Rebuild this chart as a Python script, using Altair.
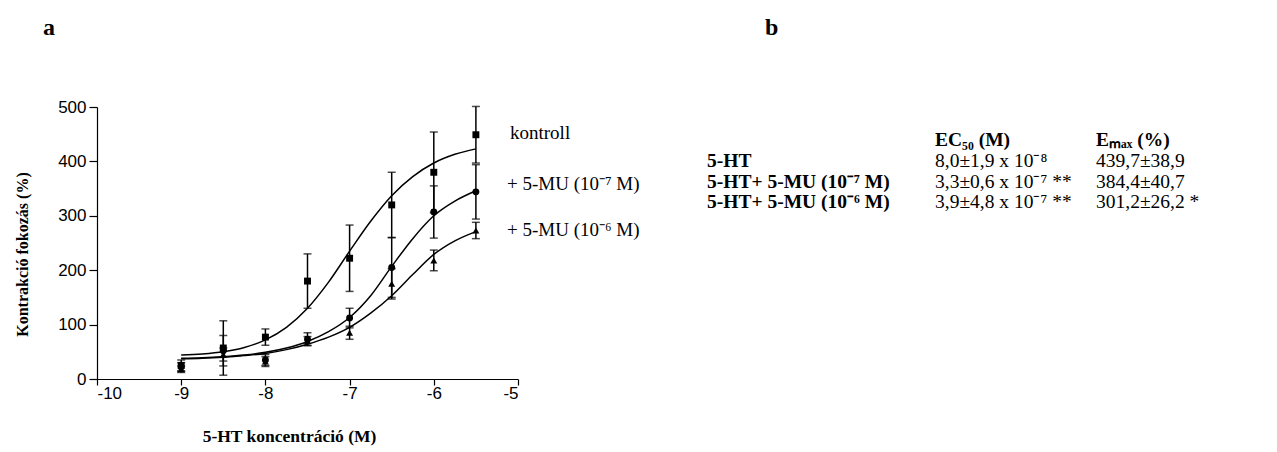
import altair as alt
import pandas as pd

# ---------------- data ----------------
conc = [-9, -8.5, -8, -7.5, -7, -6.5, -6, -5.5]

ctrl_mean = [25, 57, 77, 180, 222, 320, 380, 449]
ctrl_err = [10, 50, 15, 50, 61, 60, 74, 52]

mu7_mean = [22, 52, 35, 73, 112, 205, 307, 344]
mu7_err = [8, 28, 10, 12, 18, 55, 48, 50]

mu6_mean = [18, 45, 32, 70, 85, 175, 218, 273]
mu6_err = [6, 12, 9, 8, 12, 28, 19, 15]

curve_x = [-9, -8.75, -8.5, -8.25, -8, -7.75, -7.5, -7.25, -7, -6.75, -6.5, -6.25, -6, -5.75, -5.5]
ctrl_curve = [44, 46, 50, 58, 72, 95, 130, 178, 235, 290, 337, 372, 397, 413, 423]
mu7_curve = [38, 39, 41, 44, 49, 57, 69, 87, 113, 153, 207, 258, 300, 327, 346]
mu6_curve = [37, 38, 40, 43, 47, 54, 64, 77, 95, 121, 153, 192, 229, 254, 271]

series_names = ["kontroll", "+ 5-MU (10⁻⁷ M)", "+ 5-MU (10⁻⁶ M)"]
series_shapes = ["square", "circle", "triangle-up"]

table_header = ["EC₅₀ (M)", "Eₘₐₓ (%)"]
table_rows = ["5-HT", "5-HT+ 5-MU (10⁻⁷ M)", "5-HT+ 5-MU (10⁻⁶ M)"]
table_ec50 = ["8,0±1,9 x 10⁻⁸", "3,3±0,6 x 10⁻⁷ **", "3,9±4,8 x 10⁻⁷ **"]
table_emax = ["439,7±38,9", "384,4±40,7", "301,2±26,2 *"]

# ---------------- tables ----------------
pts = []
for name, shape, m, e in zip(series_names, series_shapes,
                             [ctrl_mean, mu7_mean, mu6_mean],
                             [ctrl_err, mu7_err, mu6_err]):
    for x, mv, ev in zip(conc, m, e):
        pts.append({"series": name, "shape": shape, "x": x, "y": mv,
                    "lo": mv - ev, "hi": mv + ev})
pts = pd.DataFrame(pts)

crv = []
for name, c in zip(series_names, [ctrl_curve, mu7_curve, mu6_curve]):
    for x, v in zip(curve_x, c):
        crv.append({"series": name, "x": x, "y": v})
crv = pd.DataFrame(crv)

W, H = 421, 272
SERIF = "Liberation Serif"
SANS = "Liberation Sans"

xs = alt.Scale(domain=[-10, -5], nice=False, zero=False)
ys = alt.Scale(domain=[0, 500], nice=False)

X = alt.X("x:Q", scale=xs, axis=alt.Axis(
    values=[-10, -9, -8, -7, -6, -5], grid=False, domainColor="black", domainWidth=1.2,
    tickColor="black", tickSize=6, tickWidth=1.2, labelFont=SANS, labelFontSize=17,
    labelColor="black", labelPadding=0, labelExpr="datum.value + ''",
    title="5-HT koncentráció (M)", titleFont=SERIF, titleFontSize=17.5, titleFontWeight="bold",
    titleColor="black", titleX=192, titleY=57, titleBaseline="middle", titleAlign="center"))
Y = alt.Y("y:Q", scale=ys, axis=alt.Axis(
    values=[0, 100, 200, 300, 400, 500], grid=False, domainColor="black", domainWidth=1.2,
    tickColor="black", tickSize=8, tickWidth=1.2, labelFont=SANS, labelFontSize=17,
    labelColor="black", labelPadding=3,
    title="Kontrakció fokozás (%)", titleFont=SERIF, titleFontSize=16, titleFontWeight="bold",
    titleColor="black", titleX=-75, titleY=147, titleAngle=-90, titleBaseline="middle",
    titleAlign="center"))

shape_scale = alt.Scale(domain=series_names, range=series_shapes)

lines = alt.Chart(crv).mark_line(color="black", strokeWidth=1.5, interpolate="monotone").encode(
    x=X, y=Y, detail="series:N")

err = alt.Chart(pts).mark_rule(color="black", strokeWidth=1.5).encode(
    x="x:Q", y="lo:Q", y2="hi:Q")
cap_hi = alt.Chart(pts).mark_tick(color="black", orient="horizontal", size=8, thickness=1.5).encode(
    x="x:Q", y="hi:Q")
cap_lo = alt.Chart(pts).mark_tick(color="black", orient="horizontal", size=8, thickness=1.5).encode(
    x="x:Q", y="lo:Q")
markers = alt.Chart(pts).mark_point(filled=True, color="black", opacity=1, size=48).encode(
    x="x:Q", y="y:Q", shape=alt.Shape("series:N", scale=shape_scale, legend=None))

layers = [lines, err, cap_hi, cap_lo, markers]

# series labels at the right of the curves
label_y = [26, 77, 123]
label_x = [413, 410, 410]
for name, ly, lx in zip(series_names, label_y, label_x):
    layers.append(alt.Chart(pd.DataFrame({"t": [name]})).mark_text(
        font=SERIF, fontSize=19, align="left", baseline="middle", color="black").encode(
        text="t:N", x=alt.value(lx), y=alt.value(ly)))

# panel letters
for letter, lx in zip(["a", "b"], [-54, 668]):
    layers.append(alt.Chart(pd.DataFrame({"t": [letter]})).mark_text(
        font=SERIF, fontSize=24, fontWeight="bold", align="left", baseline="middle",
        color="black").encode(text="t:N", x=alt.value(lx), y=alt.value(-79)))

# table
FS = 19.5
col_x = [838, 999]
for h, cx in zip(table_header, col_x):
    layers.append(alt.Chart(pd.DataFrame({"t": [h]})).mark_text(
        font=SERIF, fontSize=FS, fontWeight="bold", align="left", baseline="middle",
        color="black").encode(text="t:N", x=alt.value(cx), y=alt.value(33)))
row_y = [54, 74.5, 95]
for r, ec, em, ry in zip(table_rows, table_ec50, table_emax, row_y):
    layers.append(alt.Chart(pd.DataFrame({"t": [r]})).mark_text(
        font=SERIF, fontSize=FS, fontWeight="bold", align="left", baseline="middle",
        color="black").encode(text="t:N", x=alt.value(610), y=alt.value(ry)))
    layers.append(alt.Chart(pd.DataFrame({"t": [ec]})).mark_text(
        font=SERIF, fontSize=FS, align="left", baseline="middle",
        color="black").encode(text="t:N", x=alt.value(col_x[0]), y=alt.value(ry)))
    layers.append(alt.Chart(pd.DataFrame({"t": [em]})).mark_text(
        font=SERIF, fontSize=FS, align="left", baseline="middle",
        color="black").encode(text="t:N", x=alt.value(col_x[1]), y=alt.value(ry)))

chart = alt.layer(*layers).properties(
    width=W, height=H,
    autosize=alt.AutoSizeParams(type="none"),
    padding={"left": 97, "top": 107, "right": 759, "bottom": 73},
    background="white",
).configure_view(stroke=None)

chart.save("out.html", embed_options={"renderer": "svg", "actions": False})
